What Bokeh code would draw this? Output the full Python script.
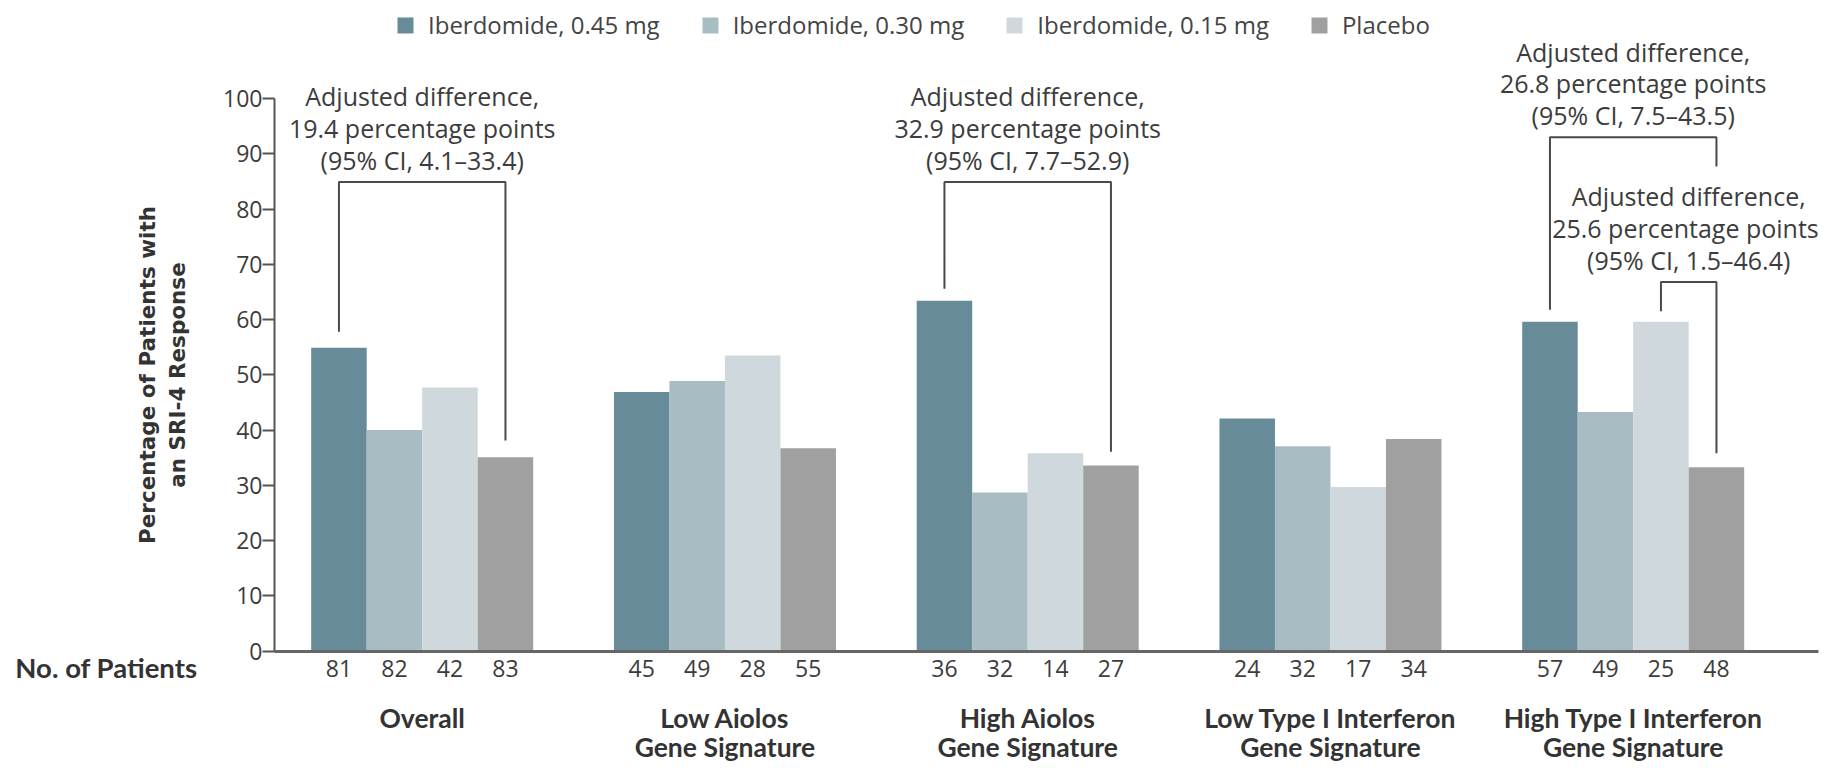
from bokeh.plotting import figure
from bokeh.models import (Range1d, FixedTicker, LinearAxis, Legend, LegendItem,
                          ColumnDataSource, LabelSet, Label)
from bokeh.core.properties import value
from bokeh.embed import file_html
from bokeh.resources import INLINE

# ---------------- data ----------------
group_line1 = ["Overall", "Low Aiolos", "High Aiolos", "Low Type I Interferon", "High Type I Interferon"]
group_line2 = ["", "Gene Signature", "Gene Signature", "Gene Signature", "Gene Signature"]
series = ["Iberdomide, 0.45 mg", "Iberdomide, 0.30 mg", "Iberdomide, 0.15 mg", "Placebo"]
colors = ["#678b99", "#a8bcc3", "#cfd8dc", "#a0a0a0"]

ibd_045 = [54.9, 46.9, 63.4, 42.1, 59.6]
ibd_030 = [40.0, 48.9, 28.7, 37.1, 43.3]
ibd_015 = [47.7, 53.5, 35.8, 29.7, 59.6]
placebo = [35.1, 36.7, 33.6, 38.4, 33.3]
values = [ibd_045, ibd_030, ibd_015, placebo]

n_045 = [81, 45, 36, 24, 57]
n_030 = [82, 49, 32, 32, 49]
n_015 = [42, 28, 14, 17, 25]
n_pbo = [83, 55, 27, 34, 48]
counts = [n_045, n_030, n_015, n_pbo]
y_ticks = list(range(0, 101, 10))

# comparison brackets: group, first bar, second bar, top, left end, right end
br_group = [0, 2, 4, 4]
br_bar_a = [0, 0, 0, 2]
br_bar_b = [3, 3, 3, 3]
br_top = [84.9, 84.9, 93.0, 66.8]
br_left_end = [57.8, 65.6, 61.8, 61.5]
br_right_end = [38.1, 36.1, 87.7, 35.8]
br_text = [
    ["Adjusted difference,", "19.4 percentage points", "(95% CI, 4.1\u201333.4)"],
    ["Adjusted difference,", "32.9 percentage points", "(95% CI, 7.7\u201352.9)"],
    ["Adjusted difference,", "26.8 percentage points", "(95% CI, 7.5\u201343.5)"],
    ["Adjusted difference,", "25.6  percentage points", "(95% CI, 1.5\u201346.4)"],
]

# ---------------- layout ----------------
W, H = 1836, 768
STEP_PX = 302.75         # px per group
C0_PX = 421.7            # px of first group centre
Y0_PX = 650.7            # px of y = 0
PX_PER_Y = 5.527         # px per percentage point
BW = 55.5 / STEP_PX      # bar width in group units

def xd(px):
    return (px - C0_PX) / STEP_PX

def yd(py):
    return (Y0_PX - py) / PX_PER_Y

def bar_x(g, k):
    return round(g + (k - 1.5) * BW, 5)

FONT = "Open Sans"
BFONT = "Lato"
TXT = "#3c3c3c"

p = figure(output_backend="svg", toolbar_location=None, width=W, height=H,
           x_range=Range1d(xd(0), xd(W)), y_range=Range1d(yd(H), yd(0)),
           min_border=0, x_axis_location=None, y_axis_location=None)
p.outline_line_color = None
p.xgrid.visible = False
p.ygrid.visible = False
p.background_fill_color = "white"
p.border_fill_color = "white"

renderers = []
for k in range(4):
    src = ColumnDataSource(dict(x=[bar_x(g, k) for g in range(5)], top=values[k]))
    r = p.vbar(x="x", top="top", width=BW, bottom=0, source=src,
               fill_color=colors[k], line_color=None)
    renderers.append(r)

# brackets
xs, ys = [], []
for i in range(len(br_group)):
    xa = bar_x(br_group[i], br_bar_a[i])
    xb = bar_x(br_group[i], br_bar_b[i])
    xs.append([xa, xa, xb, xb])
    ys.append([br_left_end[i], br_top[i], br_top[i], br_right_end[i]])
p.multi_line(xs=xs, ys=ys, line_color="#4a4a4a", line_width=2)

# bracket annotation texts
LINE_STEP = 5.75
GAP = 4.0
tx, ty, tt = [], [], []
for i in range(len(br_group)):
    xa = bar_x(br_group[i], br_bar_a[i])
    xb = bar_x(br_group[i], br_bar_b[i])
    xc = (xa + xb) / 2
    base = br_top[i] + GAP
    for j, line in enumerate(br_text[i]):
        tx.append(xc)
        ty.append(base + (2 - j) * LINE_STEP)
        tt.append(line)
p.add_layout(LabelSet(x="x", y="y", text="t", source=ColumnDataSource(dict(x=tx, y=ty, t=tt)),
                      text_align="center", text_baseline="middle",
                      text_font=value(FONT), text_font_size="25px", text_color=TXT))

# y axis
yax = LinearAxis(ticker=FixedTicker(ticks=y_ticks), fixed_location=xd(274), bounds=(0, 100))
yax.axis_line_color = "#555555"
yax.axis_line_width = 2
yax.major_tick_line_color = "#555555"
yax.major_tick_line_width = 2
yax.major_tick_out = 12
yax.major_tick_in = 0
yax.minor_tick_line_color = None
yax.major_label_standoff = 0
yax.major_label_text_font = FONT
yax.major_label_text_font_size = "23px"
yax.major_label_text_color = TXT
yax.axis_label = "Percentage of Patients with\nan SRI-4 Response"
yax.axis_label_text_font = "DejaVu Sans"
yax.axis_label_text_font_style = "bold"
yax.axis_label_text_font_size = "21.5px"
yax.axis_label_text_color = "#333333"
yax.axis_label_standoff = 30
p.add_layout(yax, "left")

# x axis: patient counts
ticks = []
overrides = {}
for g in range(5):
    for k in range(4):
        x = bar_x(g, k)
        ticks.append(x)
        overrides[x] = str(counts[k][g])
xax = LinearAxis(ticker=FixedTicker(ticks=ticks), major_label_overrides=overrides,
                 fixed_location=0, bounds=(xd(274), xd(1818)))
xax.axis_line_color = "#666666"
xax.axis_line_width = 3
xax.major_tick_line_color = None
xax.minor_tick_line_color = None
xax.major_label_standoff = 3
xax.major_label_text_font = FONT
xax.major_label_text_font_size = "23px"
xax.major_label_text_color = TXT
p.add_layout(xax, "below")

# x axes: group names (two lines)
for lines, standoff in ((group_line1, 45), (group_line2, 74)):
    gax = LinearAxis(ticker=FixedTicker(ticks=[0, 1, 2, 3, 4]),
                     major_label_overrides={i: lines[i] for i in range(5)},
                     fixed_location=0)
    gax.axis_line_color = None
    gax.major_tick_line_color = None
    gax.minor_tick_line_color = None
    gax.major_label_standoff = standoff
    gax.major_label_text_font = BFONT
    gax.major_label_text_font_style = "bold"
    gax.major_label_text_font_size = "26.5px"
    gax.major_label_text_color = "#333333"
    p.add_layout(gax, "below")

# row label
p.add_layout(Label(x=xd(197), y=yd(667), text="No. of Patients", text_align="right",
                   text_baseline="middle", text_font=BFONT, text_font_style="bold",
                   text_font_size="27.5px", text_color="#333333"))

# legend
legend = Legend(items=[LegendItem(label=series[k], renderers=[renderers[k]]) for k in range(4)],
                orientation="horizontal", location=(395, H - 41))
legend.glyph_width = 20
legend.glyph_height = 20
legend.label_standoff = 13
legend.spacing = 40
legend.padding = 0
legend.margin = 0
legend.border_line_color = None
legend.background_fill_alpha = 0
legend.label_text_font = FONT
legend.label_text_font_size = "24px"
legend.label_text_color = "#444444"
p.add_layout(legend, "center")

open("out.html", "w").write(file_html(p, INLINE))
